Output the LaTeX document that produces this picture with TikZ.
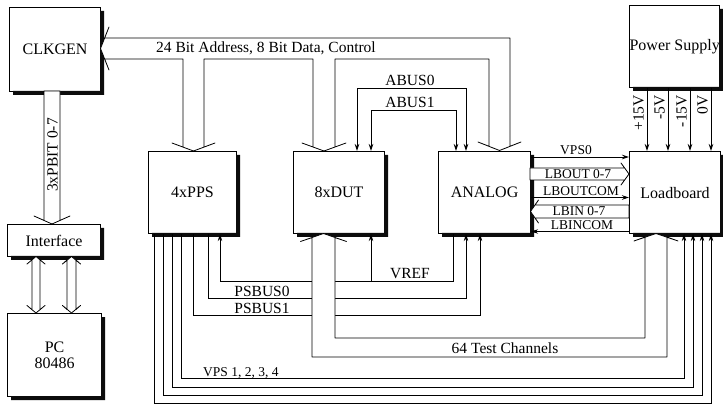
\documentclass[tikz,border=0pt]{standalone}
\usepackage{fontspec}
\setmainfont{Liberation Serif}
\usetikzlibrary{arrows.meta}
\definecolor{shadowc}{RGB}{12,12,12}
\begin{document}
\begin{tikzpicture}[x=1pt,y=-1pt,
  box/.style={draw,line width=1.1pt,fill=white,anchor=north west,inner sep=0pt,align=center,
    font=\fontsize{16}{16}\selectfont},
  boxshadow/.style={fill=shadowc},
  wire/.style={line width=0.8pt},
  arr/.style={wire,-{Stealth[length=7pt,width=4.5pt]}},
  arrb/.style={wire,{Stealth[length=7pt,width=4.5pt]}-{Stealth[length=7pt,width=4.5pt]}},
  bus/.style={line width=0.8pt,fill=white,line join=round},
  lbl/.style={inner sep=0pt,font=\fontsize{15.5}{15.5}\selectfont},
  slbl/.style={inner sep=0pt,font=\fontsize{13.5}{13.5}\selectfont},
]
\fill[white] (0,0) rectangle (723,406);
\useasboundingbox (0,0) rectangle (723,406);

% boxes
\node[box,minimum width=91pt,minimum height=84pt] (clk) at (9,7) {CLKGEN};
\node[box,minimum width=93pt,minimum height=32pt] (intf) at (7,224) {Interface};
\node[box,minimum width=94pt,minimum height=83pt] (pc) at (7,313) {PC\\80486};
\node[box,minimum width=88pt,minimum height=82pt] (pps) at (148,151) {4xPPS};
\node[box,minimum width=91pt,minimum height=82pt] (dut) at (293,151) {8xDUT};
\node[box,minimum width=92pt,minimum height=82pt] (ana) at (438,151) {ANALOG};
\node[box,minimum width=91pt,minimum height=82pt] (lb) at (629,151) {Loadboard};
\node[box,minimum width=90pt,minimum height=82pt] (ps) at (629,5) {Power Supply};

% shadows along right and bottom sides (L-shaped fills)
\fill[boxshadow] (100,11) -- (104,11) -- (104,95) -- (13,95) -- (13,91) -- (100,91) -- cycle;
\fill[boxshadow] (100,228) -- (104,228) -- (104,260) -- (11,260) -- (11,256) -- (100,256) -- cycle;
\fill[boxshadow] (101,317) -- (105,317) -- (105,400) -- (11,400) -- (11,396) -- (101,396) -- cycle;
\fill[boxshadow] (236,155) -- (240,155) -- (240,237) -- (152,237) -- (152,233) -- (236,233) -- cycle;
\fill[boxshadow] (384,155) -- (388,155) -- (388,237) -- (297,237) -- (297,233) -- (384,233) -- cycle;
\fill[boxshadow] (530,155) -- (534,155) -- (534,237) -- (442,237) -- (442,233) -- (530,233) -- cycle;
\fill[boxshadow] (720,155) -- (723,155) -- (723,237) -- (633,237) -- (633,233) -- (720,233) -- cycle;
\fill[boxshadow] (719,9) -- (723,9) -- (723,91) -- (633,91) -- (633,87) -- (719,87) -- cycle;

% ABUS
\draw[arrb] (dut.north -| 357,0) |- (466,88) -- (ana.north -| 466,0);
\draw[arrb] (dut.north -| 371,0) |- (456,110) -- (ana.north -| 456,0);
\node[lbl,anchor=base] (abus0) at (410,85.5) {ABUS0};
\node[lbl,anchor=base] (abus1) at (410,107.5) {ABUS1};

% VREF
\draw[arr] (ana.south -| 453,0) |- (220,281) -- (pps.south -| 220,0);
\coordinate (vj) at (371,281);
\draw[arr] (vj) -- (dut.south -| vj);
\node[lbl,anchor=base] (vref) at (410,278) {VREF};

% PSBUS
\draw[arr] (pps.south -| 208,0) |- (466,298) -- (ana.south -| 466,0);
\draw[arr] (pps.south -| 193,0) |- (480,315) -- (ana.south -| 480,0);
\node[lbl,anchor=base] (psb0) at (262,296) {PSBUS0};
\node[lbl,anchor=base] (psb1) at (262,313) {PSBUS1};

% VPS
\draw[arr] (pps.south -| 181,0) |- (684,378) -- (lb.south -| 684,0);
\draw[arr] (pps.south -| 172,0) |- (693,387) -- (lb.south -| 693,0);
\draw[arr] (pps.south -| 163,0) |- (702,395.5) -- (lb.south -| 702,0);
\draw[arr] (pps.south -| 154,0) |- (711,403.5) -- (lb.south -| 711,0);
\node[slbl,anchor=base west] (vps) at (203,376) {VPS 1, 2, 3, 4};

% power
\foreach \x/\t in {647/+15V,668/-5V,690/-15V,711/0V} {
  \draw[arr] (ps.south -| \x,0) -- (lb.north -| \x,0);
  \node[lbl,rotate=90,anchor=south east] at (\x-3,95) {\t};
}

% analog - loadboard single lines
\draw[arr] (ana.east |- 0,157) -- (lb.west |- 0,157);
\node[slbl,anchor=base] (vps0) at (576,154.5) {VPS0};
\draw[arr] (ana.east |- 0,197.5) -- (lb.west |- 0,197.5);
\node[slbl,anchor=base] (lbocom) at (581,195.5) {LBOUTCOM};
\draw[arr] (lb.west |- 0,231.5) -- (ana.east |- 0,231.5);
\node[slbl,anchor=base] (lbicom) at (582,229.5) {LBINCOM};

% hollow buses
\draw[bus] (530,168) -- (624.6,168) -- (621,163) -- (629,174) -- (621,185) -- (624.6,180) -- (530,180) -- cycle;
\node[slbl] (lbout) at (578,174) {LBOUT 0-7};
\draw[bus] (629,205) -- (535,205) -- (538.5,200) -- (530.5,211.5) -- (538.5,223) -- (535,218) -- (629,218) -- cycle;
\node[slbl] (lbin) at (579,211.5) {LBIN 0-7};
\draw[bus] (312,237.6) -- (312,357) -- (667,357) -- (667,237) -- (678,241) -- (656,233.5) -- (634,241) -- (645,237) -- (645,338) -- (335,338) -- (335,237.6) -- (346.5,241.5) -- (323.5,233.5) -- (300.5,241.5) -- cycle;
\node[lbl,anchor=base] (tc) at (505,353) {64 Test Channels};
\draw[bus] (104.6,38) -- (510,38) -- (510,146.3) -- (521,142) -- (499.5,150.5) -- (478,142) -- (489,146.3) -- (489,59) -- (335,59) -- (335,147) -- (346,143) -- (324,151) -- (302,143) -- (313,147) -- (313,59) -- (204,59) -- (204,147.1) -- (215,143) -- (193.5,151) -- (172,143) -- (183,147.1) -- (183,59) -- (104.6,59) -- (109,70) -- (100.5,48.5) -- (109,27) -- cycle;
\node[lbl,anchor=base west] (addr) at (156,53) {24 Bit Address, 8 Bit Data, Control};
\draw[bus] (44,91) -- (44,220.4) -- (34,216) -- (52,224) -- (70,216) -- (60,220.4) -- (60,91) -- cycle;
\node[lbl,rotate=90] (pbit) at (52.5,155) {3xPBIT 0-7};
\draw[bus] (32,259.8) -- (32,309.7) -- (27,305.5) -- (36,313) -- (45,305.5) -- (40,309.7) -- (40,259.8) -- (45,264) -- (36,256.5) -- (27,264) -- cycle;
\draw[bus] (67,260) -- (67,309.5) -- (62.5,305.5) -- (71.5,313) -- (80.5,305.5) -- (76,309.5) -- (76,260) -- (80.5,264) -- (71.5,256.5) -- (62.5,264) -- cycle;
\end{tikzpicture}
\end{document}
